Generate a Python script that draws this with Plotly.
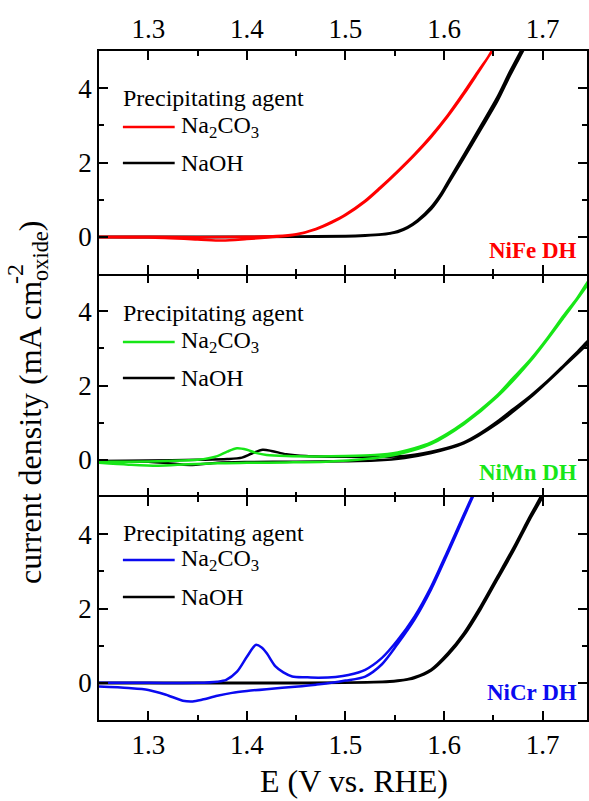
import plotly.graph_objects as go
from plotly.subplots import make_subplots

# ---------------- data ----------------
# NiFe DH (top panel)
nife_na2co3_E = [1.25, 1.30, 1.35, 1.40, 1.43, 1.45, 1.47, 1.486, 1.50, 1.52, 1.535, 1.553, 1.57, 1.587, 1.604, 1.62, 1.634, 1.645, 1.66,
                 1.66, 1.645, 1.634, 1.62, 1.604, 1.587, 1.57, 1.553, 1.535, 1.52, 1.50, 1.486, 1.47, 1.45, 1.43, 1.40, 1.375, 1.35, 1.30, 1.25]
nife_na2co3_j = [0.0, 0.0, -0.01, 0.0, 0.02, 0.07, 0.2, 0.38, 0.58, 0.95, 1.3, 1.75, 2.2, 2.69, 3.25, 3.84, 4.4, 4.85, 5.5,
                 5.45, 4.85, 4.43, 3.88, 3.28, 2.72, 2.22, 1.77, 1.32, 0.97, 0.6, 0.4, 0.21, 0.06, 0.0, -0.06, -0.1, -0.07, -0.02, -0.01]
nife_naoh_E = [1.25, 1.35, 1.45, 1.50, 1.52, 1.537, 1.545, 1.553, 1.563, 1.573, 1.587, 1.597, 1.604, 1.62, 1.637, 1.654, 1.667, 1.68, 1.69,
               1.69, 1.68, 1.667, 1.654, 1.637, 1.62, 1.604, 1.597, 1.587, 1.573, 1.563, 1.553, 1.545, 1.537, 1.52, 1.50, 1.45, 1.35, 1.25]
nife_naoh_j = [0.0, 0.0, 0.01, 0.02, 0.04, 0.07, 0.1, 0.15, 0.26, 0.44, 0.8, 1.16, 1.48, 2.2, 2.97, 3.75, 4.45, 5.1, 5.6,
               5.5, 5.0, 4.35, 3.65, 2.88, 2.12, 1.42, 1.11, 0.75, 0.41, 0.24, 0.13, 0.09, 0.06, 0.03, 0.01, 0.0, -0.01, -0.01]

# NiMn DH (middle panel)
nimn_na2co3_E = [1.25, 1.28, 1.32, 1.35, 1.37, 1.38, 1.39, 1.40, 1.41, 1.42, 1.44, 1.47, 1.50, 1.53, 1.553, 1.57, 1.587, 1.603, 1.62, 1.637, 1.654, 1.67, 1.6876, 1.705, 1.721, 1.735, 1.75,
                 1.75, 1.721, 1.6876, 1.654, 1.62, 1.587, 1.553, 1.52, 1.48, 1.44, 1.40, 1.37, 1.34, 1.31, 1.28, 1.25]
nimn_na2co3_j = [-0.05, -0.05, -0.03, 0.0, 0.1, 0.22, 0.31, 0.27, 0.18, 0.13, 0.1, 0.09, 0.1, 0.13, 0.2, 0.31, 0.47, 0.7, 1.0, 1.35, 1.74, 2.2, 2.7, 3.28, 3.87, 4.35, 4.95,
                 4.9, 3.82, 2.66, 1.7, 0.96, 0.43, 0.15, 0.02, -0.05, -0.07, -0.08, -0.09, -0.12, -0.16, -0.13, -0.08]
nimn_naoh_E = [1.25, 1.30, 1.35, 1.38, 1.395, 1.405, 1.416, 1.425, 1.44, 1.46, 1.50, 1.55, 1.57, 1.587, 1.603, 1.62, 1.637, 1.654, 1.67, 1.6876, 1.705, 1.721, 1.735, 1.75,
               1.75, 1.721, 1.6876, 1.654, 1.62, 1.587, 1.56, 1.53, 1.50, 1.45, 1.40, 1.37, 1.342, 1.32, 1.30, 1.25]
nimn_naoh_j = [-0.03, -0.02, 0.0, 0.02, 0.06, 0.17, 0.27, 0.24, 0.15, 0.1, 0.08, 0.09, 0.14, 0.22, 0.32, 0.47, 0.72, 1.03, 1.36, 1.72, 2.12, 2.53, 2.9, 3.3,
               3.25, 2.5, 1.68, 0.98, 0.44, 0.18, 0.05, -0.02, -0.04, -0.05, -0.06, -0.08, -0.14, -0.09, -0.05, -0.03]

# NiCr DH (bottom panel)
nicr_na2co3_E = [1.25, 1.30, 1.35, 1.37, 1.379, 1.39, 1.40, 1.409, 1.415, 1.42, 1.429, 1.437, 1.446, 1.46, 1.4728, 1.49, 1.503, 1.52, 1.537, 1.553, 1.57, 1.587, 1.604, 1.6207, 1.63, 1.64,
                 1.64, 1.63, 1.6207, 1.604, 1.587, 1.57, 1.553, 1.537, 1.52, 1.50, 1.486, 1.47, 1.452, 1.42, 1.40, 1.385, 1.37, 1.355, 1.345, 1.335, 1.318, 1.30, 1.28, 1.25]
nicr_na2co3_j = [0.0, 0.0, 0.0, 0.03, 0.08, 0.3, 0.7, 1.02, 0.95, 0.8, 0.44, 0.28, 0.17, 0.15, 0.14, 0.16, 0.21, 0.35, 0.67, 1.15, 1.78, 2.59, 3.57, 4.56, 5.1, 5.6,
                 5.55, 5.05, 4.5, 3.5, 2.52, 1.7, 1.05, 0.5, 0.17, 0.06, 0.0, -0.05, -0.1, -0.17, -0.22, -0.27, -0.35, -0.45, -0.5, -0.48, -0.32, -0.19, -0.14, -0.1]
nicr_naoh_E = [1.25, 1.45, 1.50, 1.53, 1.545, 1.553, 1.563, 1.57, 1.587, 1.604, 1.62, 1.637, 1.654, 1.671, 1.687, 1.70, 1.71,
               1.71, 1.70, 1.687, 1.671, 1.654, 1.637, 1.62, 1.604, 1.587, 1.57, 1.563, 1.553, 1.545, 1.52, 1.45, 1.25]
nicr_naoh_j = [0.0, 0.0, 0.01, 0.02, 0.04, 0.06, 0.1, 0.15, 0.36, 0.8, 1.33, 2.05, 2.85, 3.66, 4.47, 5.1, 5.6,
               5.5, 5.0, 4.4, 3.58, 2.78, 1.98, 1.27, 0.75, 0.33, 0.13, 0.09, 0.05, 0.03, 0.01, -0.01, -0.01]

x_ticks = [1.3, 1.4, 1.5, 1.6, 1.7]
y_ticks = [0, 2, 4]
panel_names = ["NiFe DH", "NiMn DH", "NiCr DH"]
panel_colors = ["#ff0000", "#17e617", "#0a0af0"]
legend_title = "Precipitating agent"
legend_labels = ["Na<sub>2</sub>CO<sub>3</sub>", "NaOH"]
x_title = "E (V vs. RHE)"
y_title_main = "current density (mA cm<sub>oxide</sub>)"
y_title_exp = "-2"

panels = [
    (nife_na2co3_E, nife_na2co3_j, nife_naoh_E, nife_naoh_j),
    (nimn_na2co3_E, nimn_na2co3_j, nimn_naoh_E, nimn_naoh_j),
    (nicr_na2co3_E, nicr_na2co3_j, nicr_naoh_E, nicr_naoh_j),
]

FONT = "'Liberation Serif', 'Times New Roman', Times, serif"
W, H = 589, 801
ML, MR, MT, MB = 99, 0, 51, 81
PH = (H - MT - MB) / 3.0
PW = W - ML - MR


def py(pix):
    """paper y fraction for a pixel row"""
    return ((H - MB) - pix) / (H - MT - MB)


fig = make_subplots(rows=3, cols=1, shared_xaxes=True, vertical_spacing=0)

# legend vertical offsets (px from panel top): title, line1, line2
leg_off = [(47, 76, 112), (39, 68, 104), (36, 63, 100)]
lab_off = [199, 198, 195]

for i, (ce, cj, ne, nj) in enumerate(panels):
    r = i + 1
    fig.add_trace(go.Scatter(x=ne, y=nj, mode="lines",
                             line=dict(color="black", width=2.5, shape="spline", smoothing=0.8),
                             showlegend=False), row=r, col=1)
    fig.add_trace(go.Scatter(x=ce, y=cj, mode="lines",
                             line=dict(color=panel_colors[i], width=2.5, shape="spline", smoothing=0.8),
                             showlegend=False), row=r, col=1)
    xr = "x" if r == 1 else f"x{r}"
    yr = "y" if r == 1 else f"y{r}"
    t_off, l1, l2 = leg_off[i]
    fig.add_annotation(xref=f"{xr} domain", yref=f"{yr} domain", x=(121 - ML) / PW,
                       y=1 - t_off / PH, text=legend_title, showarrow=False, xanchor="left", yanchor="middle",
                       font=dict(family=FONT, size=24, color="black"))
    for off, col, lab in [(l1, panel_colors[i], legend_labels[0]), (l2, "black", legend_labels[1])]:
        yy = 1 - off / PH
        fig.add_shape(type="line", xref=f"{xr} domain", yref=f"{yr} domain",
                      x0=(123 - ML) / PW, x1=(175 - ML) / PW, y0=yy, y1=yy,
                      line=dict(color=col, width=2.5))
        fig.add_annotation(xref=f"{xr} domain", yref=f"{yr} domain", x=(179 - ML) / PW,
                           y=yy, text=lab, showarrow=False, xanchor="left", yanchor="middle",
                           font=dict(family=FONT, size=24, color="black"))
    fig.add_annotation(xref=f"{xr} domain", yref=f"{yr} domain", x=(581 - ML) / PW,
                       y=1 - lab_off[i] / PH, text=f"<b>{panel_names[i]}</b>", showarrow=False,
                       xanchor="right", yanchor="middle",
                       font=dict(family=FONT, size=23, color=panel_colors[i]))

axis_common = dict(linecolor="black", linewidth=1.5, mirror="ticks", ticks="inside",
                   ticklen=9, tickwidth=1.5, tickcolor="black", showgrid=False, zeroline=False,
                   tickfont=dict(family=FONT, size=27, color="black"))
for r in range(1, 4):
    fig.update_xaxes(row=r, col=1, range=[1.25, 1.745], tickvals=x_ticks, ticktext=[f"{v:.1f}" for v in x_ticks],
                     minor=dict(dtick=0.05, tick0=1.25, ticks="inside", ticklen=5, tickwidth=1.5, tickcolor="black"),
                     showline=(r != 2),
                     showticklabels=(r != 2), side=("top" if r == 1 else "bottom"), **axis_common)
    fig.update_yaxes(row=r, col=1, range=[-1, 5], tickvals=y_ticks, showline=True,
                     minor=dict(dtick=1, tick0=-1, ticks="inside", ticklen=5, tickwidth=1.5, tickcolor="black"),
                     **axis_common)

# axis titles
fig.add_annotation(xref="paper", yref="paper", x=(355 - ML) / PW, y=py(781), text=x_title,
                   showarrow=False, xanchor="center", yanchor="middle",
                   font=dict(family=FONT, size=32, color="black"))
fig.add_annotation(xref="paper", yref="paper", x=0, xshift=-(ML - 32), y=py(403),
                   text=y_title_main, textangle=-90,
                   showarrow=False, xanchor="center", yanchor="middle",
                   font=dict(family=FONT, size=32, color="black"))
fig.add_annotation(xref="paper", yref="paper", x=0, xshift=-(ML - 15), y=py(274),
                   text=y_title_exp, textangle=-90,
                   showarrow=False, xanchor="center", yanchor="middle",
                   font=dict(family=FONT, size=24, color="black"))

fig.update_layout(width=W, height=H, margin=dict(l=ML, r=MR, t=MT, b=MB),
                  plot_bgcolor="white", paper_bgcolor="white", showlegend=False,
                  font=dict(family=FONT))

fig.write_html("out.html")
